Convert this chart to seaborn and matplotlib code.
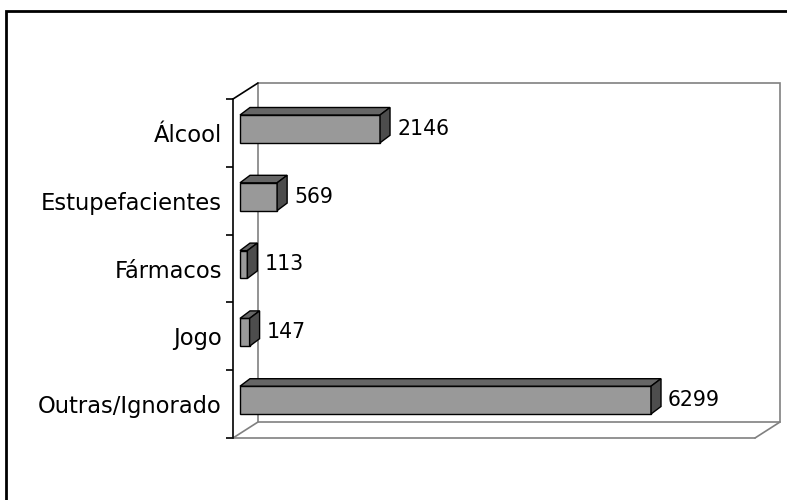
import matplotlib
matplotlib.use('Agg')
import pandas as pd
import seaborn as sns
from matplotlib import pyplot as plt
from matplotlib import transforms
from matplotlib.patches import Polygon, Rectangle
from matplotlib.lines import Line2D

# data
categorias = ['Álcool', 'Estupefacientes', 'Fármacos', 'Jogo', 'Outras/Ignorado']
valores = [2146, 569, 113, 147, 6299]

df = pd.DataFrame({'cat': categorias, 'val': valores})

sns.set_style('white')
plt.rcParams['font.family'] = ['DejaVu Sans']
plt.rcParams['text.color'] = 'black'
plt.rcParams['ytick.color'] = 'black'

DPI = 100
fig = plt.figure(figsize=(7.87, 5.0), dpi=DPI)
# front plane of the 3d box
ax = fig.add_axes([233 / 787, 62 / 500, 522 / 787, 339 / 500])

sns.barplot(data=df, x='val', y='cat', orient='h', width=0.41, color='#999999',
            saturation=1, edgecolor='black', linewidth=1, ax=ax)
ax.set_xlim(0, 8000)
ax.set_ylim(4.5, -0.5)
ax.set_xlabel('')
ax.set_ylabel('')
ax.set_xticks([])
for s in ['top', 'right', 'bottom']:
    ax.spines[s].set_visible(False)
ax.spines['left'].set_color('black')
ax.spines['left'].set_linewidth(1.2)
ax.set_yticks(range(len(categorias)))
ax.set_yticklabels(categorias, fontsize=16.3, color='black')
ax.tick_params(axis='y', which='major', length=0, pad=8)
ax.set_yticks([i - 0.5 for i in range(len(categorias) + 1)], minor=True)
ax.tick_params(axis='y', which='minor', length=5, width=1.2, color='black', left=True)
ax.patch.set_alpha(0)

# box depth (pixels)
fdx, fdy = 25, 16
back = transforms.offset_copy(ax.transAxes, fig=fig, x=fdx, y=fdy, units='dots')
grey = '#808080'
# back wall
ax.add_patch(Rectangle((0, 0), 1, 1, transform=back, fill=False, edgecolor=grey,
                       lw=1.2, clip_on=False, zorder=0))
# floor
ax.add_line(Line2D([0, 1], [0, 0], transform=ax.transAxes, color=grey, lw=1.2, clip_on=False))
for xa in [0, 1]:
    p0 = ax.transAxes.transform((xa, 0))
    ax.add_line(Line2D([p0[0], p0[0] + fdx], [p0[1], p0[1] + fdy], transform=None,
                       color=grey, lw=1.2, clip_on=False))
# top-left edge
p0 = ax.transAxes.transform((0, 1))
ax.add_line(Line2D([p0[0], p0[0] + fdx], [p0[1], p0[1] + fdy], transform=None,
                   color='black', lw=1.2, clip_on=False))

# bars sit a bit behind the front plane, then get a 3d top and side
bar_tr = transforms.offset_copy(ax.transData, fig=fig, x=7, y=4, units='dots')
bdx, bdy = 10, 7.5
for patch, v in zip(ax.patches[:len(valores)], valores):
    patch.set_transform(bar_tr)
    x0, y0 = patch.get_x(), patch.get_y()
    w, h = patch.get_width(), patch.get_height()
    (ax_, ay_), (bx_, by_) = bar_tr.transform([(x0, y0), (x0 + w, y0 + h)])
    left, right = min(ax_, bx_), max(ax_, bx_)
    bot, top = min(ay_, by_), max(ay_, by_)
    topface = [(left, top), (right, top), (right + bdx, top + bdy), (left + bdx, top + bdy)]
    side = [(right, bot), (right, top), (right + bdx, top + bdy), (right + bdx, bot + bdy)]
    ax.add_patch(Polygon(topface, closed=True, transform=None, facecolor='#666666',
                         edgecolor='black', lw=1, clip_on=False, zorder=3))
    ax.add_patch(Polygon(side, closed=True, transform=None, facecolor='#4d4d4d',
                         edgecolor='black', lw=1, clip_on=False, zorder=3))
    txt_tr = transforms.offset_copy(bar_tr, fig=fig, x=bdx + 7, y=0, units='dots')
    ax.text(v, y0 + h / 2, str(v), transform=txt_tr, fontsize=14.8, va='center',
            ha='left', color='black', clip_on=False)

# outer border (chart area frame)
fig.add_artist(Rectangle((6 / 787, -0.1), 1.2, 1.1 - 11 / 500, transform=fig.transFigure,
                         fill=False, edgecolor='black', lw=2))

fig.savefig('out.png', dpi=DPI, facecolor='white')
